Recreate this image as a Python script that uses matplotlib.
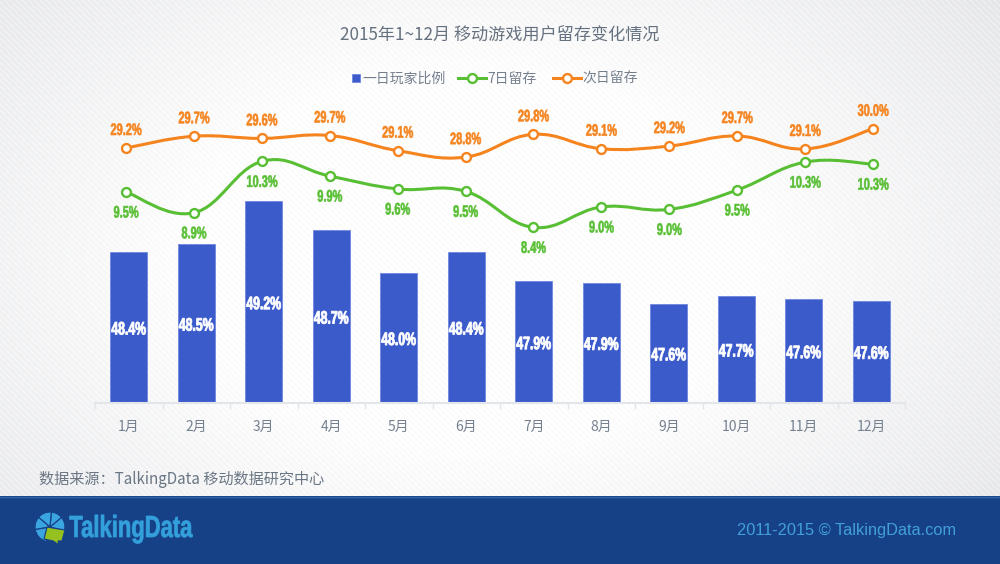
import numpy as np
from matplotlib import pyplot as plt
from matplotlib import patheffects
from matplotlib.patches import PathPatch, Wedge, Polygon
from matplotlib.path import Path
from matplotlib.transforms import Affine2D

plt.rcParams['font.family'] = ['Noto Sans CJK SC', 'DejaVu Sans']

months = ['1月', '2月', '3月', '4月', '5月', '6月', '7月', '8月', '9月', '10月', '11月', '12月']
one_day = [48.41, 48.53, 49.2, 48.75, 48.08, 48.41, 47.95, 47.93, 47.6, 47.72, 47.67, 47.65]
seven_day = [9.47, 8.86, 10.37, 9.94, 9.56, 9.49, 8.43, 9.03, 8.96, 9.53, 10.35, 10.29]
next_day = [29.2, 29.69, 29.6, 29.72, 29.09, 28.82, 29.77, 29.17, 29.28, 29.7, 29.16, 30.0]

# printed labels, the bar/point heights above are read finer than these
one_day_labels = ['48.4%', '48.5%', '49.2%', '48.7%', '48.0%', '48.4%', '47.9%', '47.9%', '47.6%', '47.7%', '47.6%', '47.6%']
seven_day_labels = ['9.5%', '8.9%', '10.3%', '9.9%', '9.6%', '9.5%', '8.4%', '9.0%', '9.0%', '9.5%', '10.3%', '10.3%']
next_day_labels = ['29.2%', '29.7%', '29.6%', '29.7%', '29.1%', '28.8%', '29.8%', '29.1%', '29.2%', '29.7%', '29.1%', '30.0%']

W, H = 1000, 564
BLUE = '#3c5bcb'
GREEN = '#58bf34'
ORANGE = '#f5841f'
GREY = '#75808f'
NAVY = '#164186'


def px_axes(fig, left, top, right, bottom):
    # axes from pixel box, top-left origin
    return fig.add_axes([left / W, 1 - bottom / H, (right - left) / W, (bottom - top) / H])


# no condensed font installed, so squeeze the glyphs around the text centre
class Squeeze(patheffects.AbstractPathEffect):
    def __init__(self, sx, lw=0.0):
        super().__init__()
        self.sx = sx
        self.lw = lw

    def draw_path(self, renderer, gc, tpath, affine, rgbFace=None):
        ext = tpath.get_extents()
        cx = (ext.x0 + ext.x1) / 2
        t = Affine2D().translate(-cx, 0).scale(self.sx, 1).translate(cx, 0) + affine
        gc0 = renderer.new_gc()
        gc0.copy_properties(gc)
        gc0.set_foreground(rgbFace)
        gc0.set_linewidth(self.lw)
        renderer.draw_path(gc0, tpath, t, rgbFace)
        gc0.restore()


# catmull-rom style curve through the points, same look as the chart lib smooth line
def smooth_path(x, y, k=0.2):
    x, y = np.asarray(x, float), np.asarray(y, float)
    verts = [(x[0], y[0])]
    codes = [Path.MOVETO]
    for i in range(len(x) - 1):
        i0, i3 = max(i - 1, 0), min(i + 2, len(x) - 1)
        verts.append((x[i] + k * (x[i + 1] - x[i0]), y[i] + k * (y[i + 1] - y[i0])))
        verts.append((x[i + 1] - k * (x[i3] - x[i]), y[i + 1] - k * (y[i3] - y[i])))
        verts.append((x[i + 1], y[i + 1]))
        codes += [Path.CURVE4] * 3
    return Path(verts, codes)


fig = plt.figure(figsize=(W / 100, H / 100), dpi=100)

# background: white centre, grey-blue corners, faint diagonal stripes
bg = px_axes(fig, 0, 0, W, H)
yy, xx = np.mgrid[0:H, 0:W]
dist = np.sqrt(((xx - 470) / 640.0) ** 2 + ((yy - 260) / 420.0) ** 2)
shade = np.clip((dist - 0.45) / 0.75, 0, 1)
stripes = ((xx - yy) % 6 < 3) * 1.0
val = 1 - shade * 0.10 - stripes * (0.012 + shade * 0.018)
img = np.dstack([val, val + 0.004 * shade, val + 0.018 * shade])
bg.imshow(np.clip(img, 0, 1), extent=(0, W, H, 0), aspect='auto', zorder=0)
bg.set_xlim(0, W)
bg.set_ylim(H, 0)
bg.axis('off')
bg.fill_between([0, W], 496, H, color=NAVY, lw=0, zorder=1)
bg.plot([0, W], [496.5, 496.5], color='#3566a8', lw=1, zorder=2)

# logo, y axis is flipped here so angles go clockwise
logo_c = (50, 527)
for a1, a2 in [(-15, 40), (40, 85), (85, 140), (140, 190), (190, 255)]:
    bg.add_patch(Wedge(logo_c, 15, -a2, -a1, fc='#3aa5e0', ec=NAVY, lw=0.9, zorder=3))
bg.add_patch(Polygon([(47, 527), (65, 530), (62, 541), (58, 541), (59, 545), (53, 541), (44, 539)],
                     fc='#94c11f', ec=NAVY, lw=0.9, zorder=4))
bg.text(130.5, 529, 'TalkingData', family=['Liberation Sans', 'DejaVu Sans'], fontweight='bold',
        fontsize=22, color='#33a0dc', va='center', ha='center', zorder=4, path_effects=[Squeeze(0.72, 0.5)])
bg.text(956, 530.5, '2011-2015 © TalkingData.com', family=['Liberation Sans', 'DejaVu Sans'],
        fontsize=11.8, color='#429fda', va='center', ha='right', zorder=4)

bg.text(499.5, 35.5, '2015年1~12月 移动游戏用户留存变化情况', fontsize=12.3, color='#65717f', ha='center', va='center')
bg.text(39, 480, '数据来源：TalkingData 移动数据研究中心', fontsize=10.9, color='#6a7684', ha='left', va='center')

# bars, truncated axis
ax = px_axes(fig, 95, 120, 905, 403)
ax.patch.set_alpha(0)
x = np.arange(len(months))
bars = ax.bar(x, one_day, width=37 / 67.5, color=BLUE, edgecolor='#6f87e0', linewidth=0.6, zorder=2)
ax.set_xlim(-0.5, 11.5)
ax.set_ylim(46.05, 46.05 + 283 / 64.0)
ax.set_yticks([])
ax.set_xticks(np.arange(len(months) + 1) - 0.5)
ax.set_xticklabels([])
ax.set_xticks(x, labels=months, minor=True)
ax.tick_params(axis='x', which='major', length=4, color='#e2e5ea', width=1)
ax.tick_params(axis='x', which='minor', length=0, pad=12, labelsize=10, labelcolor=GREY)
for s in ['top', 'left', 'right']:
    ax.spines[s].set_visible(False)
ax.spines['bottom'].set_color('#e2e5ea')
ax.spines['bottom'].set_linewidth(1.5)

narrow = dict(family=['Liberation Sans', 'DejaVu Sans'], fontweight='bold', ha='center', va='center')
for b, v, lab in zip(bars, one_day, one_day_labels):
    ax.annotate(lab, (b.get_x() + b.get_width() / 2, (v + 46.05) / 2), xytext=(0, -2.5), textcoords='offset pixels',
                color='white', fontsize=13, **narrow, path_effects=[Squeeze(0.68, 0.6)], zorder=5)


def add_line(values, labels, ylim, color, offset):
    a = px_axes(fig, 126, 120, 873, 403)
    a.patch.set_alpha(0)
    a.axis('off')
    xs = np.arange(len(values))
    a.set_xlim(0, 11)
    a.set_ylim(*ylim)
    a.add_patch(PathPatch(smooth_path(xs, values), fc='none', ec=color, lw=2.2, capstyle='round',
                          zorder=3, clip_on=False))
    a.plot(xs, values, ls='none', marker='o', ms=6.4, mfc='white', mec=color, mew=1.7, zorder=4, clip_on=False)
    for xi, v, lab in zip(xs, values, labels):
        a.annotate(lab, (xi, v), xytext=(0, offset), textcoords='offset pixels', color=color,
                   fontsize=12, **narrow, path_effects=[Squeeze(0.66, 0.4)], zorder=5)
    return a


# pixel scale: 34 px per point for 7 day, 24 px per point for next day
seven_lim = (9.5 - (403 - 191) / 34.0, 9.5 + (191 - 120) / 34.0)
next_lim = (29.2 - (403 - 148) / 24.0, 29.2 + (148 - 120) / 24.0)
add_line(seven_day, seven_day_labels, seven_lim, GREEN, -21)
add_line(next_day, next_day_labels, next_lim, ORANGE, 17.5)

# legend, square handle is narrower than the line handles so two legends
h_seven = plt.Line2D([], [], color=GREEN, lw=2.2, marker='o', ms=6.4, mfc='white', mec=GREEN, mew=1.7)
h_next = plt.Line2D([], [], color=ORANGE, lw=2.2, marker='o', ms=6.4, mfc='white', mec=ORANGE, mew=1.7)
common = dict(frameon=False, loc='center left', borderpad=0, borderaxespad=0, fontsize=10, labelcolor=GREY)
leg1 = fig.legend([bars], ['一日玩家比例'], bbox_to_anchor=(352 / W, 1 - 79 / H),
                  handlelength=0.55, handleheight=0.55, handletextpad=0.2, **common)
leg2 = fig.legend([h_seven, h_next], ['7日留存', '次日留存'], ncol=2, bbox_to_anchor=(458 / W, 1 - 79 / H),
                  handlelength=2.0, handletextpad=0.1, columnspacing=1.2, **common)

fig.savefig('out.png', dpi=100)
